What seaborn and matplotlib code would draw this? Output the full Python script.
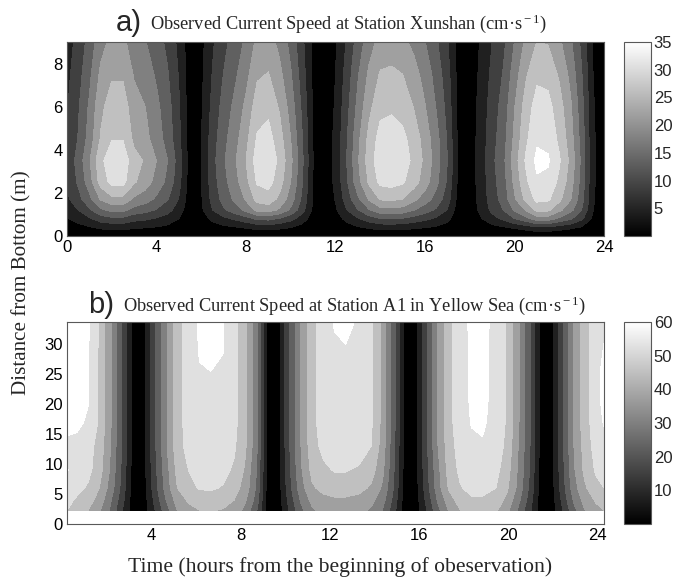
import numpy as np
import matplotlib
matplotlib.use("Agg")
import matplotlib.pyplot as plt
import seaborn as sns
from matplotlib.colors import Normalize
from matplotlib.cm import ScalarMappable

# ---------------- Panel a: Xunshan (speed, cm/s) ----------------
hours_a = [0, 0.5, 1, 1.5, 2, 2.5, 3, 3.5, 4, 4.5, 5, 5.5,
           6, 6.5, 7, 7.5, 8, 8.5, 9, 9.5, 10, 10.5, 11, 11.5,
           12, 12.5, 13, 13.5, 14, 14.5, 15, 15.5, 16, 16.5, 17, 17.5,
           18, 18.5, 19, 19.5, 20, 20.5, 21, 21.5, 22, 22.5, 23, 23.5, 24]
heights_a = [0, 0.35, 0.8, 1.2, 1.7, 2.5, 3.5, 4.5, 6, 7.5, 9]

ha_00 = [0.3,0.4,0.6,0.8,0.9,0.9,0.8,0.7,0.6,0.5,0.3,0.1, 0.1,0.3,0.5,0.6,0.7,0.9,0.9,0.8,0.6,0.4,0.1,0.0, 0.2,0.4,0.6,0.8,0.9,0.9,0.9,0.8,0.7,0.5,0.4,0.1, 0.1,0.2,0.3,0.5,0.6,0.8,1.0,1.0,0.8,0.7,0.5,0.2,0.0]
ha_035 = [1.6,2.4,3.2,4.2,4.7,4.7,4.0,3.7,3.3,2.7,1.8,0.3, 0.8,1.9,2.6,3.1,3.8,4.6,4.8,4.3,3.5,2.3,0.8,0.2, 1.0,2.1,3.1,4.0,4.7,4.8,4.7,4.1,3.6,3.0,2.1,0.5, 0.4,1.3,2.3,3.0,4.0,4.9,5.9,5.9,5.0,4.2,3.0,1.1,0.2]
ha_08 = [3.8,5.4,7.4,9.9,10.9,10.9,9.3,8.7,7.6,6.2,4.0,0.7, 2.0,4.9,7.0,8.6,10.4,12.7,13.1,11.6,9.3,6.0,2.0,0.6, 2.2,5.1,7.6,10.0,11.8,12.0,11.6,10.3,8.9,7.3,5.1,1.1, 1.1,3.7,6.6,8.8,11.9,14.6,18.2,17.9,15.2,12.6,8.8,3.2,0.6]
ha_12 = [5.6,8.0,11.3,15.2,16.9,16.9,14.4,13.4,11.6,9.4,6.0,1.1, 3.2,8.0,11.4,14.1,17.0,21.0,21.7,19.2,15.2,9.6,3.2,1.1, 3.4,7.8,11.8,15.6,18.5,18.8,18.3,16.1,13.8,11.4,7.8,1.8, 1.5,5.0,9.0,12.0,16.5,20.2,25.1,24.7,20.9,17.2,12.0,4.2,0.8]
ha_17 = [7.2,10.6,14.8,20.3,22.8,22.8,19.2,17.7,15.2,12.2,7.8,1.5, 3.6,9.2,13.4,16.8,20.5,25.3,26.1,23.0,18.0,11.3,3.6,1.3, 4.2,9.8,15.2,20.4,24.3,24.6,23.9,21.0,17.9,14.5,9.8,2.3, 1.8,5.5,10.0,13.6,19.4,25.0,29.0,28.6,25.0,20.3,13.6,4.6,0.9]
ha_25 = [8.4,12.6,18.1,25.6,29.2,29.2,24.5,21.9,18.6,14.9,9.3,1.9, 3.8,10.0,14.7,18.5,22.8,28.5,29.5,25.7,20.0,12.4,3.8,1.4, 4.8,11.4,18.5,24.7,29.0,29.5,28.5,25.7,21.9,17.1,11.4,2.9, 1.9,5.7,10.5,14.3,20.9,27.1,31.4,30.9,27.1,21.9,14.3,4.8,1.0]
ha_35 = [9,13.5,19.5,27,30.5,30.5,25.5,23.5,20,16,10,2, 4,10.5,15.5,19.5,24,30,31,27,21,13,4,1.5, 5,12,19.5,26,30.5,31,30,27,23,18,12,3, 2,6,11,15,22,28.5,33,32.5,28.5,23,15,5,1]
ha_45 = [8.1,12.2,17.6,24.3,27.8,27.8,23.0,21.2,18.0,14.4,9.0,1.8, 3.8,10.0,14.7,18.5,22.8,28.5,29.5,25.7,20.0,12.4,3.8,1.4, 4.9,11.6,18.9,25.2,29.6,30.1,29.1,26.2,22.3,17.5,11.6,2.9, 1.9,5.7,10.5,14.3,20.9,27.1,31.4,30.9,27.1,21.9,14.3,4.8,1.0]
ha_60 = [7.7,11.5,16.6,23.0,25.9,25.9,21.7,20.0,17.0,13.6,8.5,1.7, 3.5,9.1,13.5,17.0,20.9,26.1,27.0,23.5,18.3,11.3,3.5,1.3, 4.4,10.6,17.2,22.9,26.8,27.3,26.4,23.8,20.2,15.8,10.6,2.6, 1.8,5.4,9.9,13.5,19.8,25.7,29.7,29.3,25.7,20.7,13.5,4.5,0.9]
ha_75 = [6.9,10.4,15.0,20.8,23.5,23.5,19.6,18.1,15.4,12.3,7.7,1.5, 3.1,8.2,12.1,15.2,18.7,23.4,24.2,21.1,16.4,10.1,3.1,1.2, 4.0,9.6,15.6,20.8,24.4,24.8,24.0,21.6,18.4,14.4,9.6,2.4, 1.6,4.9,9.0,12.3,18.0,23.4,27.1,26.7,23.4,18.9,12.3,4.1,0.8]
ha_90 = [6.2,9.3,13.5,18.6,21.0,21.0,17.6,16.2,13.8,11.0,6.9,1.4, 2.8,7.4,10.9,13.7,16.8,21.0,21.7,18.9,14.7,9.1,2.8,1.1, 3.5,8.4,13.7,18.2,21.4,21.7,21.0,18.9,16.1,12.6,8.4,2.1, 1.5,4.4,8.0,11.0,16.1,20.8,24.1,23.7,20.8,16.8,11.0,3.7,0.7]

levels_a = [0, 4, 8, 12, 16, 20, 24, 28, 32, 36]
cbar_ticks_a = [5, 10, 15, 20, 25, 30, 35]
xticks_a = [0, 4, 8, 12, 16, 20, 24]
yticks_a = [0, 2, 4, 6, 8]

# ---------------- Panel b: A1 Yellow Sea ----------------
hours_b = [0.2,0.65,1.15,1.65,2.15,2.65,3.15,3.65,4.15,4.65,5.15,5.65,6.15,6.65,7.2,7.7,
           8.2,8.7,9.2,9.7,10.2,10.7,11.2,11.7,12.2,12.7,13.3,13.85,14.35,14.85,15.35,15.85,
           16.35,16.85,17.35,17.85,18.35,18.85,19.45,19.95,20.45,20.95,21.45,21.95,22.45,22.95,
           23.45,23.95,24.3]
heights_b = [2.3, 4, 6, 9, 13, 17, 21, 25, 29, 33.7]

hb_23 = [49,45,42,36,27,15,3,3, 14,25,35,40,42,42.5,41.5,39,33,22, 3,3, 15,26,34,37,38,38,37,34,28,17, 3,3, 14,26,36,42,44.5,45,43,37,27,16, 3,3, 14,26,35,40,42]
hb_40 = [51,48,45,39,29,17,3.5,3.5, 16,28,38,43,45.5,46,45,42,36,25, 3.5,3.5, 17,29,37,40,41,41,40,37,31,19, 3.5,3.5, 16,29,39,45,48,48,46,40,30,18, 3.5,3.5, 16,29,38,43,45]
hb_60 = [53,51,48,42,32,19,4,4, 18,31,42,47,49.5,49.8,48.5,45,39,27, 4,4, 19,32,41,44,45,45,44,41,34,21, 4,4, 18,32,43,48.5,51,51,49,43,33,20, 4,4, 18,32,41,47,49]
hb_90 = [56.3,54,51,45,34,20,4.5,4.5, 19,32,44,49,51.5,52,51,48,41,28, 4.5,4.5, 20,34,44,47.5,49.5,49.5,48,45,37,22, 4.5,4.5, 19,33,45,50.5,53,53,51,45,34,21, 4.5,4.5, 19,34,44,50,52]
hb_130 = [54.5,54,52,46,35,21,5,5, 20,34,46,51.5,54,54.5,54,50,43,30, 5,5, 21,35,46,51,53,54,53,49,39,23, 5,5, 20,35,46,52,55,55.5,53,47,35,22, 5,5, 20,35,45,52,54]
hb_170 = [58,57.5,55,48,36,21,5,5, 20,34,46,52,55,55.5,55,51,44,30, 5,5, 21,36,47,52,54,55,54,50,40,24, 5,5, 20,35,47,53,56.3,56.8,54,48,36,22, 5,5, 20,36,46,53,56.5]
hb_210 = [61,59,56.5,48,36,21,5,5, 20,34,46,52,55,55.5,55,51,44,30, 5,5, 21,36,47,52,54,55,54,50,40,24, 5,5, 20,35,47,53,57,57.5,54,48,36,22, 5,5, 20,36,46,54,58]
hb_250 = [61,59,56.5,48,36,21,5,5, 20,34,46,52,55.5,55.8,55,51,44,30, 5,5, 21,36,47,52,54,55,54,50,40,24, 5,5, 20,35,47,53,57,57.5,54,48,36,22, 5,5, 20,36,46,54,58]
hb_290 = [61,59,56.5,48,36,21,5,5, 20,34,46,52,56.5,57.5,56.2,51,44,30, 5,5, 21,36,47,52,55,55.5,54,50,40,24, 5,5, 20,35,47,53,57,57.5,54,48,36,22, 5,5, 20,36,46,54,56.3]
hb_337 = [60,58.5,57,48,36,21,5,5, 20,34,46,52,57,58.5,56.5,51,44,30, 5,5, 21,36,47,52,56.5,58,55,50,40,24, 5,5, 20,35,47,53,57.5,58,54,48,36,22, 5,5, 20,36,46,53,55]

levels_b = [0, 7, 14, 21, 28, 35, 42, 49, 56, 63]
cbar_ticks_b = [10, 20, 30, 40, 50, 60]
xticks_b = [4, 8, 12, 16, 20, 24]
yticks_b = [0, 5, 10, 15, 20, 25, 30]

# ---------------- style ----------------
sns.set_theme(style="white")
plt.rcParams["font.family"] = ["Liberation Sans", "DejaVu Sans"]
plt.rcParams["mathtext.fontset"] = "custom"
plt.rcParams["mathtext.rm"] = "Liberation Serif"
plt.rcParams["mathtext.it"] = "Liberation Serif:italic"
SERIF = ["Liberation Serif", "DejaVu Serif"]

W, H = 688, 579
fig = plt.figure(figsize=(W / 100, H / 100), dpi=100)
fig.patch.set_facecolor("white")

def box(l, t, r, b):
    return [l / W, 1 - b / H, (r - l) / W, (b - t) / H]

ax_a = fig.add_axes(box(67, 42, 604, 236))
cax_a = fig.add_axes(box(624, 42, 651, 236))
ax_b = fig.add_axes(box(67, 322, 604, 524))
cax_b = fig.add_axes(box(624, 322, 651, 524))

Za = np.array([ha_00, ha_035, ha_08, ha_12, ha_17, ha_25, ha_35, ha_45, ha_60, ha_75, ha_90])
Zb = np.array([hb_23, hb_40, hb_60, hb_90, hb_130, hb_170, hb_210, hb_250, hb_290, hb_337])

# band colours: lowest band black, highest band white (MATLAB-like)
band_norm_a = Normalize(2, 34)
band_norm_b = Normalize(3.5, 59.5)
ax_a.contourf(hours_a, heights_a, Za, levels=levels_a, cmap="gray", norm=band_norm_a)
ax_b.contourf(hours_b, heights_b, Zb, levels=levels_b, cmap="gray", norm=band_norm_b)

ax_a.set_xlim(0, 24)
ax_a.set_ylim(0, 9)
ax_a.set_xticks(xticks_a)
ax_a.set_yticks(yticks_a)
ax_b.set_xlim(0.2, 24.3)
ax_b.set_ylim(0, 33.7)
ax_b.set_xticks(xticks_b)
ax_b.set_yticks(yticks_b)

for ax in (ax_a, ax_b):
    ax.set_facecolor("white")
    ax.tick_params(direction="in", top=True, right=True, length=4, width=0.6,
                   color="0.25", labelsize=12, pad=3, labelcolor="black")
    for s in ax.spines.values():
        s.set_color("0.35")
        s.set_linewidth(0.8)

for cax, norm, ticks in ((cax_a, Normalize(0, 35), cbar_ticks_a),
                         (cax_b, Normalize(0, 60), cbar_ticks_b)):
    sm = ScalarMappable(norm=norm, cmap="gray")
    cb = fig.colorbar(sm, cax=cax, ticks=ticks)
    cb.outline.set_edgecolor("0.35")
    cb.outline.set_linewidth(0.8)
    cax.tick_params(direction="in", left=True, right=True, length=3, width=0.6,
                    color="0.4", labelsize=12, pad=2)

# titles
fig.text(116 / W, 1 - 31 / H, "a)", fontsize=21, va="baseline", ha="left")
fig.text(150 / W, 1 - 29 / H, r"Observed Current Speed at Station Xunshan (cm·s$^{\rm -1}$)",
         fontsize=13.2, family=SERIF, va="baseline", ha="left")
fig.text(88 / W, 1 - 313 / H, "b)", fontsize=21, va="baseline", ha="left")
fig.text(123 / W, 1 - 311 / H, r"Observed Current Speed at Station A1 in Yellow Sea (cm·s$^{\rm -1}$)",
         fontsize=13.2, family=SERIF, va="baseline", ha="left")

fig.text(22 / W, 1 - 283 / H, "Distance from Bottom (m)", rotation=90, fontsize=15.2,
         family=SERIF, va="center", ha="center")
fig.text(340 / W, 1 - 567 / H, "Time (hours from the beginning of obeservation)", fontsize=15.6,
         family=SERIF, va="center", ha="center")

fig.savefig("out.png", dpi=100, facecolor="white")
